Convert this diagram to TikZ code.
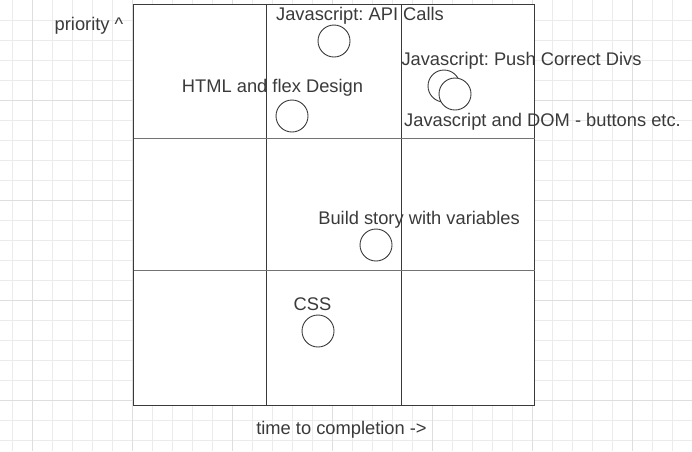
\documentclass[tikz,border=0pt]{standalone}
\usepackage{fontspec}
\setmainfont{Liberation Sans}
\frenchspacing
\definecolor{txt}{HTML}{3A3A3A}
\definecolor{gridminor}{HTML}{EBEBEB}
\definecolor{gridmajor}{HTML}{DEDEDE}
\begin{document}
\begin{tikzpicture}[x=1pt,y=-1pt,
  lbl/.style={text=txt,font=\fontsize{18.3}{20}\selectfont,inner sep=0pt},
  dot/.style={circle,draw=txt,fill=white,line width=0.9pt,minimum size=32pt,inner sep=0pt},
  cell/.style={draw=txt,fill=white,line width=0.9pt}]
\useasboundingbox (0,0) rectangle (692,451);
\fill[white] (0,0) rectangle (692,451);
% grid
\foreach \i in {0,...,33}{
  \pgfmathsetmacro{\xx}{12.5+20*\i}
  \draw[gridminor,line width=0.8pt] (\xx,0) -- (\xx,451);
}
\foreach \j in {1,...,22}{
  \draw[gridminor,line width=0.8pt] (0,20*\j) -- (692,20*\j);
}
\foreach \xx in {32.5,132.5,232.5,332.5,432.5,532.5,632.5}{
  \draw[gridmajor,line width=0.8pt] (\xx,0) -- (\xx,451);
}
\foreach \yy in {100,200,300,400}{
  \draw[gridmajor,line width=0.8pt] (0,\yy) -- (692,\yy);
}
% cells
\draw[cell] (133.5,4.5) rectangle (534.5,405.5);
\draw[txt,line width=0.9pt] (266.5,4.5) -- (266.5,405.5);
\draw[txt,line width=0.9pt] (401.5,4.5) -- (401.5,405.5);
\draw[black!55,line width=1.6pt] (133.5,138.5) -- (534.5,138.5);
\draw[black!55,line width=1.6pt] (133.5,270.5) -- (534.5,270.5);
% labels
\node[lbl] (prio) at (89,25.5) {priority \^{}};
\node[lbl] (api) at (360,15.5) {Javascript: API Calls};
\node[dot] (capi) at (334,41) {};
\node[lbl] (push) at (521.5,60.5) {Javascript: Push Correct Divs};
\node[dot] (cpush) at (444,86) {};
\node[dot] (cdom) at (455,94) {};
\node[lbl] (html) at (272.5,87.5) {HTML and flex Design};
\node[dot] (chtml) at (292,116) {};
\node[lbl] (dom) at (542.5,121.5) {Javascript and DOM - buttons etc.};
\node[lbl] (story) at (419,219.5) {Build story with variables};
\node[dot] (cstory) at (376,245) {};
\node[lbl] (css) at (312.5,304.5) {CSS};
\node[dot] (ccss) at (318,331) {};
\node[lbl] (time) at (341.5,429.5) {time to completion ->};
\end{tikzpicture}
\end{document}
